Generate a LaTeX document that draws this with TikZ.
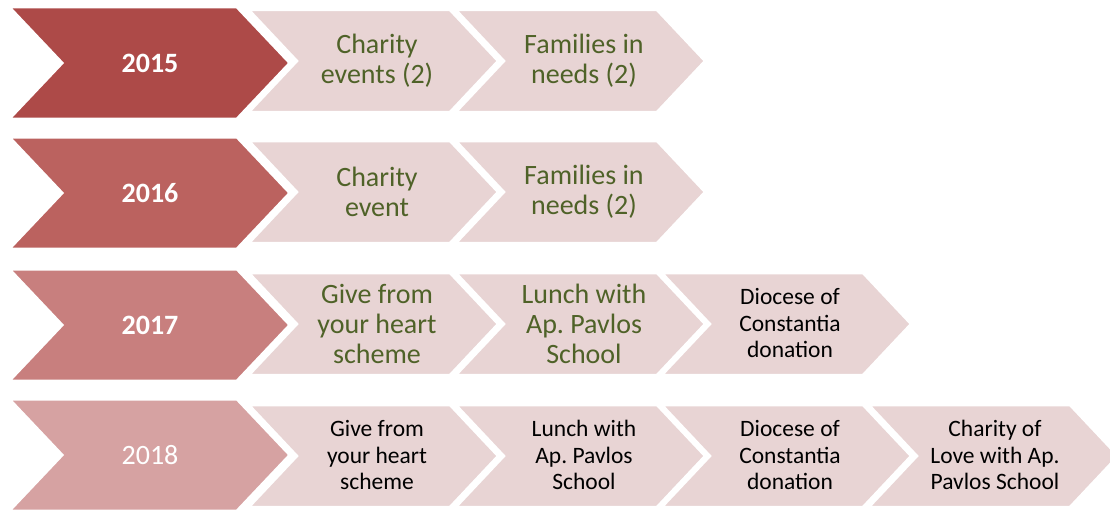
\documentclass[tikz,border=0pt]{standalone}
\usepackage{fontspec}
\setmainfont{Carlito}
\frenchspacing

\definecolor{yrA}{HTML}{AD4A48}
\definecolor{yrB}{HTML}{BB625F}
\definecolor{yrC}{HTML}{C87F7E}
\definecolor{yrD}{HTML}{D6A2A2}
\definecolor{stepfill}{HTML}{E8D4D4}
\definecolor{olive}{HTML}{4F6228}

% left x, centre y, body width, half height, tip depth
\newcommand{\chevronpath}[5]{(#1,#2-#4) -- ++(#3,0) -- ++(#5,#4) -- ++(-#5,#4) -- ++(-#3,0) -- ++(#5,-#4) -- cycle}

\tikzset{
  yearbox/.style={draw=white, line width=3pt, line join=miter},
  stepbox/.style={draw=white, line width=2.5pt, fill=stepfill, line join=miter},
  yeartext/.style={text=white, align=center, font=\fontsize{28}{30}\selectfont},
  greentext/.style={text=olive, align=center, font=\fontsize{28}{30}\selectfont},
  blacktext/.style={text=black, align=center, font=\fontsize{23.5}{26.5}\selectfont}
}

\begin{document}
\begin{tikzpicture}[x=1pt, y=-1pt]
\useasboundingbox (0,0) rectangle (1110,511);

% 2015
\draw[stepbox] \chevronpath{249}{61}{201}{51}{48};
\draw[stepbox] \chevronpath{456}{61}{201}{51}{48};
\draw[yearbox, fill=yrA] \chevronpath{9}{63}{228}{56}{53};
\node[yeartext] (y15) at (150,63) {\textbf{2015}};
\node[greentext] (s15a) at (377,61) {Charity\\events (2)};
\node[greentext] (s15b) at (584,61) {Families in\\needs (2)};

% 2016
\draw[stepbox] \chevronpath{249}{192}{201}{51}{48};
\draw[stepbox] \chevronpath{456}{192}{201}{51}{48};
\draw[yearbox, fill=yrB] \chevronpath{9}{193}{228}{56}{53};
\node[yeartext] (y16) at (150,193) {\textbf{2016}};
\node[greentext] (s16a) at (377,192) {Charity\\event};
\node[greentext] (s16b) at (584,192) {Families in\\needs (2)};

% 2017
\draw[stepbox] \chevronpath{249}{324}{201}{51}{48};
\draw[stepbox] \chevronpath{456}{324}{201}{51}{48};
\draw[stepbox] \chevronpath{662}{324}{201}{51}{48};
\draw[yearbox, fill=yrC] \chevronpath{9}{325}{228}{56}{53};
\node[yeartext] (y17) at (150,325) {\textbf{2017}};
\node[greentext] (s17a) at (377,324) {Give from\\your heart\\scheme};
\node[greentext] (s17b) at (584,324) {Lunch with\\Ap. Pavlos\\School};
\node[blacktext] (s17c) at (790,323) {Diocese of\\Constantia\\donation};

% 2018
\draw[stepbox] \chevronpath{249}{456}{201}{51}{48};
\draw[stepbox] \chevronpath{456}{456}{201}{51}{48};
\draw[stepbox] \chevronpath{662}{456}{201}{51}{48};
\draw[stepbox] \chevronpath{869}{456}{201}{51}{48};
\draw[yearbox, fill=yrD] \chevronpath{9}{455}{228}{56}{53};
\node[yeartext] (y18) at (150,455) {2018};
\node[blacktext] (s18a) at (377,455) {Give from\\your heart\\scheme};
\node[blacktext] (s18b) at (584,455) {Lunch with\\Ap. Pavlos\\School};
\node[blacktext] (s18c) at (790,455) {Diocese of\\Constantia\\donation};
\node[blacktext] (s18d) at (995,455) {Charity of\\Love with Ap.\\Pavlos School};
\end{tikzpicture}
\end{document}
